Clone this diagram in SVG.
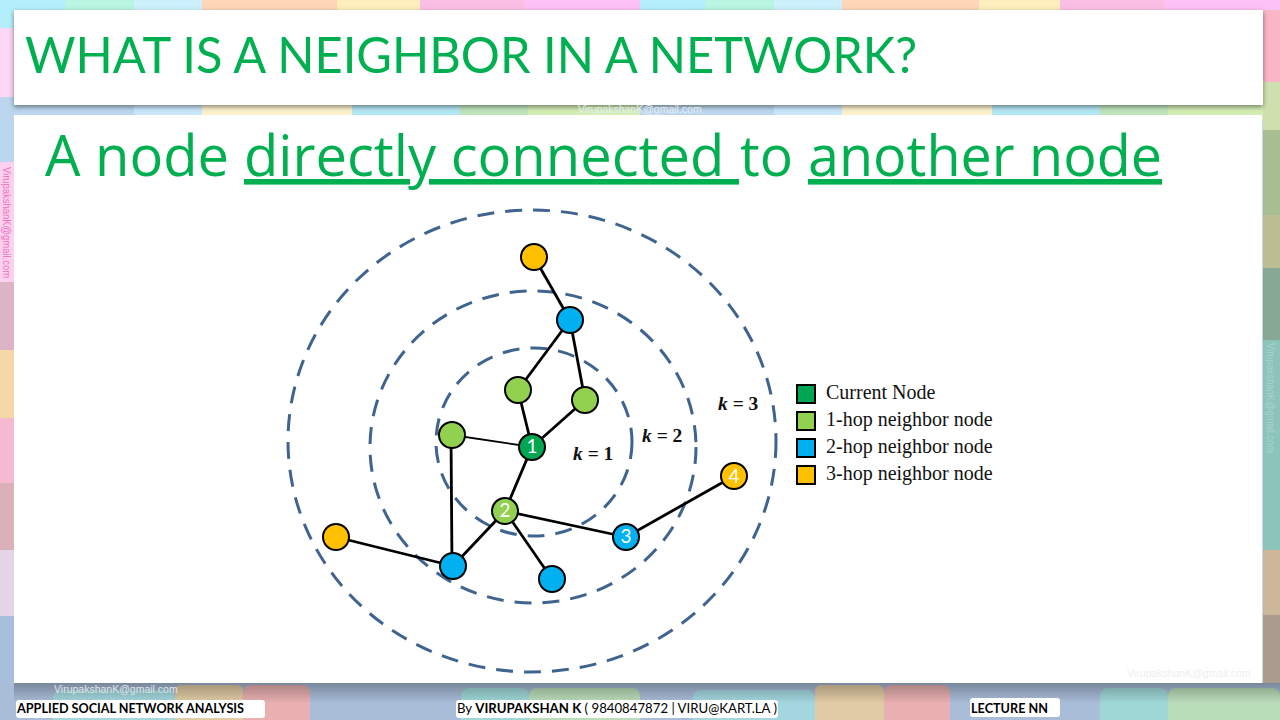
<svg xmlns="http://www.w3.org/2000/svg" width="1280" height="720" viewBox="0 0 1280 720">
<style>
.edge{stroke:#000;stroke-width:2.8;fill:none}
.ring{fill:none;stroke:#3f6490;stroke-width:3;stroke-dasharray:17 11}
.n{stroke:#000;stroke-width:2}
.g{fill:#00a651}.l{fill:#92d050}.b{fill:#00b0f0}.o{fill:#ffc000}
.num{font-family:"Lato","Liberation Sans",sans-serif;font-size:19px;fill:#fff;text-anchor:middle}
.leg{font-family:"Liberation Serif",serif;font-size:20px;fill:#111}
.k{font-family:"Liberation Serif",serif;font-size:19.5px;font-weight:bold;fill:#111}
.foot{font-family:"Lato","Liberation Sans",sans-serif;font-size:14px;fill:#000}
.wm{font-family:"Liberation Sans",sans-serif;font-size:10.5px}
.head{font-family:"Lato","Liberation Sans",sans-serif;fill:#00b050;font-weight:400}
.sub{font-family:"Open Sans","Liberation Sans",sans-serif;fill:#00b050;font-size:56px}
.under{text-decoration:underline}
</style>
<defs>
<filter id="sh" x="-2%" y="-10%" width="104%" height="125%"><feDropShadow dx="0" dy="2" stdDeviation="2.5" flood-color="#000" flood-opacity=".45"/></filter>
<linearGradient id="shade" x1="0" y1="0" x2="0" y2="1"><stop offset="0" stop-color="#000" stop-opacity=".28"/><stop offset="1" stop-color="#000" stop-opacity="0"/></linearGradient>
</defs>
<g id="background">
<rect width="1280" height="720" fill="#c9d6e8"/>
<g id="tile-top">
<rect x="0" y="0" width="65" height="28" fill="#b5eefb"/><rect x="65" y="0" width="69" height="28" fill="#b9f5e0"/><rect x="134" y="0" width="68" height="28" fill="#cdf0fd"/><rect x="202" y="0" width="135" height="28" fill="#fdd6b8"/><rect x="337" y="0" width="83" height="28" fill="#feeebd"/><rect x="420" y="0" width="104" height="28" fill="#fbbfe5"/><rect x="524" y="0" width="116" height="28" fill="#fcc2f5"/>
<rect x="640" y="0" width="65" height="28" fill="#b5eefb"/><rect x="705" y="0" width="69" height="28" fill="#b9f5e0"/><rect x="774" y="0" width="68" height="28" fill="#cdf0fd"/><rect x="842" y="0" width="137" height="28" fill="#fdd6b8"/><rect x="979" y="0" width="81" height="28" fill="#feeebd"/><rect x="1060" y="0" width="104" height="28" fill="#fbbfe5"/><rect x="1164" y="0" width="116" height="28" fill="#fcc2f5"/>
</g>
<g id="tile-mid">
<rect x="0" y="100" width="134" height="20" fill="#bcd6ef"/><rect x="134" y="100" width="68" height="20" fill="#c9e6fb"/><rect x="202" y="100" width="150" height="20" fill="#fdf2cd"/><rect x="352" y="100" width="108" height="20" fill="#b4e8f5"/><rect x="460" y="100" width="68" height="20" fill="#bfe5bd"/><rect x="528" y="100" width="112" height="20" fill="#d3eeb5"/>
<rect x="640" y="100" width="134" height="20" fill="#bcd6ef"/><rect x="774" y="100" width="68" height="20" fill="#c9e6fb"/><rect x="842" y="100" width="150" height="20" fill="#fdf2cd"/><rect x="992" y="100" width="108" height="20" fill="#b4e8f5"/><rect x="1100" y="100" width="68" height="20" fill="#bfe5bd"/><rect x="1168" y="100" width="112" height="20" fill="#d3eeb5"/>
</g>
<g id="tile-left">
<rect x="0" y="28" width="14" height="69" fill="#fdd7f6"/><rect x="0" y="97" width="14" height="65" fill="#bcd6ef"/><rect x="0" y="162" width="14" height="120" fill="#fdd0ee"/><rect x="0" y="282" width="14" height="68" fill="#dcb4c6"/><rect x="0" y="350" width="14" height="68" fill="#f6d8a8"/><rect x="0" y="418" width="14" height="65" fill="#f5bad0"/><rect x="0" y="483" width="14" height="67" fill="#dcb0b8"/><rect x="0" y="550" width="14" height="66" fill="#e5d4e8"/><rect x="0" y="616" width="14" height="104" fill="#a9bedd"/>
</g>
<g id="tile-right">
<rect x="1263" y="10" width="17" height="72" fill="#fab5c6"/><rect x="1263" y="82" width="17" height="48" fill="#cfe0ae"/><rect x="1263" y="130" width="17" height="85" fill="#a9bd92"/><rect x="1263" y="215" width="17" height="53" fill="#bcbd92"/><rect x="1263" y="268" width="17" height="72" fill="#86a894"/><rect x="1263" y="340" width="17" height="210" fill="#8cc4ba"/><rect x="1263" y="550" width="17" height="65" fill="#cdb79b"/><rect x="1263" y="615" width="17" height="68" fill="#ab9a8e"/>
</g>
<g id="tile-bottom">
<rect x="0" y="683" width="1280" height="37" fill="#a9bcd8"/>
<rect x="53" y="690" width="122" height="40" rx="8" fill="#a3d6de"/><rect x="175" y="685" width="68" height="45" rx="6" fill="#e1cba5"/><rect x="243" y="685" width="67" height="45" rx="8" fill="#e8b0b0"/><rect x="461" y="688" width="68" height="40" rx="8" fill="#9fd6d6"/><rect x="529" y="688" width="111" height="40" rx="8" fill="#b9dcb9"/>
<rect x="693" y="690" width="122" height="40" rx="8" fill="#a3d6de"/><rect x="815" y="685" width="69" height="45" rx="6" fill="#e1cba5"/><rect x="884" y="685" width="66" height="45" rx="8" fill="#e8b0b0"/><rect x="1100" y="688" width="68" height="40" rx="8" fill="#9fd6d6"/><rect x="1168" y="688" width="112" height="40" rx="8" fill="#b9dcb9"/>
<rect x="14" y="683" width="1266" height="20" fill="url(#shade)"/>
</g>
</g>
<g id="title-panel">
<rect x="14" y="10" width="1249" height="95" fill="#fff" filter="url(#sh)"/>
<text class="head" x="25" y="73" font-size="51" textLength="892" lengthAdjust="spacingAndGlyphs">WHAT IS A NEIGHBOR IN A NETWORK?</text>
</g>
<text class="wm" x="578" y="113" fill="#e6eef2">VirupakshanK@gmail.com</text>
<g id="content-panel">
<rect x="14" y="115" width="1248" height="568" fill="#fff"/>
<text class="sub" x="45" y="176" textLength="184" lengthAdjust="spacingAndGlyphs">A node</text>
<text class="sub under" x="244" y="176" textLength="495" lengthAdjust="spacingAndGlyphs" xml:space="preserve">directly connected </text>
<text class="sub" x="740" y="176" textLength="53" lengthAdjust="spacingAndGlyphs">to</text>
<text class="sub under" x="808" y="176" textLength="354" lengthAdjust="spacingAndGlyphs">another node</text>
</g>
<g id="rings">
<ellipse class="ring" cx="534" cy="442" rx="98" ry="94"/>
<ellipse class="ring" cx="533" cy="447" rx="163" ry="156"/>
<ellipse class="ring" cx="532" cy="441" rx="244" ry="231"/>
</g>
<g id="connectors">
<line class="edge" x1="534" y1="257" x2="570" y2="320"/>
<line class="edge" x1="570" y1="320" x2="518" y2="390"/>
<line class="edge" x1="570" y1="320" x2="585" y2="400"/>
<line class="edge" x1="518" y1="390" x2="532" y2="447"/>
<line class="edge" x1="585" y1="400" x2="532" y2="447"/>
<line class="edge" style="stroke-width:1.8" x1="452" y1="435" x2="532" y2="447"/>
<line class="edge" x1="532" y1="447" x2="505" y2="511"/>
<line class="edge" x1="451" y1="435" x2="452" y2="566"/>
<line class="edge" x1="505" y1="511" x2="453" y2="566"/>
<line class="edge" x1="505" y1="511" x2="552" y2="579"/>
<line class="edge" x1="505" y1="511" x2="626" y2="537"/>
<line class="edge" x1="626" y1="537" x2="734" y2="476"/>
<line class="edge" x1="336" y1="537" x2="453" y2="566"/>
</g>
<g id="node-1"><circle class="n g" cx="532" cy="447" r="13"/><text class="num" x="532" y="453">1</text></g>
<g id="node-a1"><circle class="n l" cx="518" cy="390" r="13"/></g>
<g id="node-a2"><circle class="n l" cx="585" cy="400" r="13"/></g>
<g id="node-a3"><circle class="n l" cx="452" cy="435" r="13"/></g>
<g id="node-2"><circle class="n l" cx="505" cy="511" r="13"/><text class="num" x="505" y="517">2</text></g>
<g id="node-b1"><circle class="n b" cx="570" cy="320" r="13"/></g>
<g id="node-b2"><circle class="n b" cx="453" cy="566" r="13"/></g>
<g id="node-b3"><circle class="n b" cx="552" cy="579" r="13"/></g>
<g id="node-3"><circle class="n b" cx="626" cy="537" r="13"/><text class="num" x="626" y="543">3</text></g>
<g id="node-o1"><circle class="n o" cx="534" cy="257" r="13"/></g>
<g id="node-o2"><circle class="n o" cx="336" cy="537" r="13"/></g>
<g id="node-4"><circle class="n o" cx="734" cy="476" r="13"/><text class="num" x="734" y="483">4</text></g>
<g id="k-labels">
<text class="k" x="573" y="460"><tspan font-style="italic">k</tspan> = 1</text>
<text class="k" x="642" y="442"><tspan font-style="italic">k</tspan> = 2</text>
<text class="k" x="718" y="410"><tspan font-style="italic">k</tspan> = 3</text>
</g>
<g id="legend">
<rect class="n g" x="797" y="385" width="18" height="18"/><text class="leg" x="826" y="399">Current Node</text>
<rect class="n l" x="797" y="412" width="18" height="18"/><text class="leg" x="826" y="426">1-hop neighbor node</text>
<rect class="n b" x="797" y="439" width="18" height="18"/><text class="leg" x="826" y="453">2-hop neighbor node</text>
<rect class="n o" x="797" y="466" width="18" height="18"/><text class="leg" x="826" y="480">3-hop neighbor node</text>
</g>
<g id="watermarks">
<text class="wm" x="54" y="693" fill="#dfe6ea">VirupakshanK@gmail.com</text>
<text class="wm" x="1127" y="677" fill="#eceff1">VirupakshanK@gmail.com</text>
<text class="wm" transform="translate(3,167) rotate(90)" fill="#ee70c0" font-size="9" textLength="111" lengthAdjust="spacingAndGlyphs">VirupakshanK@gmail.com</text>
<text class="wm" transform="translate(1267,343) rotate(90)" fill="#a9d4cc" font-size="9" textLength="110" lengthAdjust="spacingAndGlyphs">VirupakshanK@gmail.com</text>
</g>
<g id="footer">
<rect x="16" y="700" width="249" height="18" rx="3" fill="#fff"/>
<text class="foot" x="17" y="713" font-weight="bold" textLength="227" lengthAdjust="spacingAndGlyphs">APPLIED SOCIAL NETWORK ANALYSIS</text>
<rect x="456" y="700" width="322" height="18" rx="3" fill="#fff"/>
<text class="foot" x="457" y="713" textLength="320" lengthAdjust="spacingAndGlyphs">By <tspan font-weight="bold">VIRUPAKSHAN K</tspan> ( 9840847872 | VIRU@KART.LA )</text>
<rect x="970" y="698" width="90" height="19" rx="3" fill="#fff"/>
<text class="foot" x="971" y="713" font-weight="bold" textLength="77" lengthAdjust="spacingAndGlyphs">LECTURE NN</text>
</g>
</svg>
